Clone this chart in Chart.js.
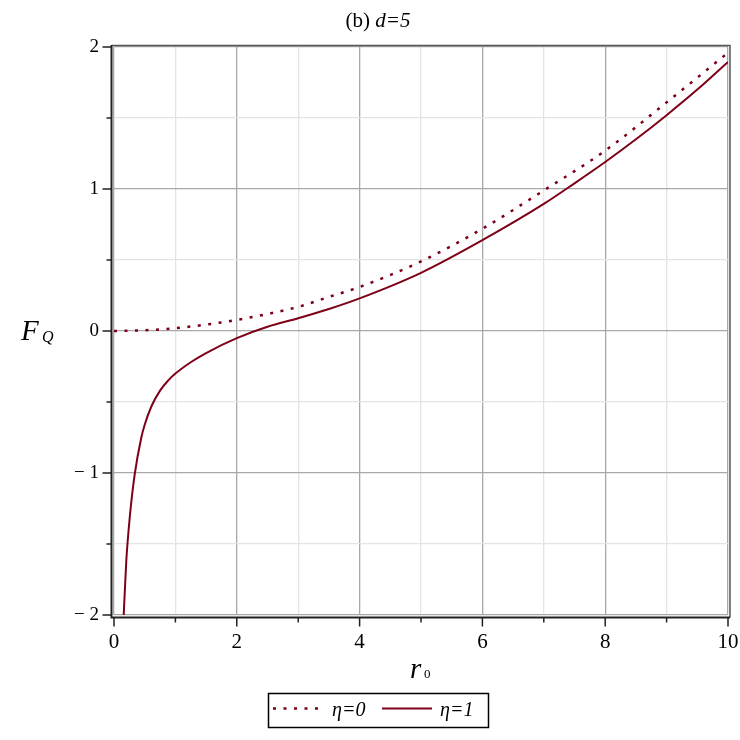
<!DOCTYPE html>
<html><head><meta charset="utf-8">
<script src="https://cdn.jsdelivr.net/npm/chart.js@4/dist/chart.umd.min.js"></script>
<style>html,body{margin:0;padding:0;background:#fff}#wrap{width:740px;height:740px}</style>
</head><body><div id="wrap"><canvas id="c" width="740" height="740"></canvas></div>
<script>
// ---- data ----
const rEta0 = [0, 0.5, 1, 1.5, 2, 2.5, 3, 3.5, 4, 5, 6, 7, 8, 9, 10];
const fEta0 = [0, 0.005, 0.02, 0.045, 0.078, 0.12, 0.17, 0.24, 0.31, 0.49, 0.72, 0.99, 1.27, 1.61, 1.96];
const rEta1 = [0.158, 0.2, 0.255, 0.337, 0.445, 0.5, 0.61, 0.75, 0.88, 1, 1.25, 1.5, 2, 2.5, 3, 3.5, 4, 5, 6, 7, 7.5, 8, 8.5, 9, 9.5, 10];
const fEta1 = [-2.0, -1.62, -1.32, -1.01, -0.75, -0.66, -0.53, -0.42, -0.35, -0.30, -0.22, -0.155, -0.05, 0.03, 0.09, 0.155, 0.23, 0.41, 0.64, 0.895, 1.04, 1.19, 1.35, 1.52, 1.70, 1.895];
const xTickLabels = [0, 2, 4, 6, 8, 10];
const yTickLabels = [-2, -1, 0, 1, 2];
const seriesNames = ['η=0', 'η=1'];
const titleParts = ['(b) ', 'd=5'];
const xLabel = ['r', '0'];
const yLabel = ['F', 'Q'];

const LINE = '#7d0018';
const SERIF = '"Liberation Serif", "DejaVu Serif", serif';

const toPts = (xs, ys) => xs.map((x, i) => ({x, y: ys[i]}));
const fmtY = v => v < 0 ? '\u2212 ' + Math.abs(v) : String(v);

const decor = {
  id: 'decor',
  afterDraw(chart) {
    const ctx = chart.ctx, a = chart.chartArea;
    const xs = chart.scales.x, ys = chart.scales.y;
    ctx.save();
    // frame top/right
    ctx.strokeStyle = '#555'; ctx.lineWidth = 1.5;
    ctx.beginPath();
    ctx.moveTo(a.left - 2.5, a.top - 1.5); ctx.lineTo(a.right + 2, a.top - 1.5);
    ctx.lineTo(a.right + 2, a.bottom + 2.5);
    ctx.stroke();
    // axes
    ctx.strokeStyle = '#222'; ctx.lineWidth = 2;
    const axX = a.left - 2.5, axY = a.bottom + 2.5;
    ctx.beginPath();
    ctx.moveTo(axX, a.top - 2); ctx.lineTo(axX, axY + 1);
    ctx.moveTo(axX - 1, axY); ctx.lineTo(a.right + 2, axY);
    ctx.stroke();
    // ticks
    ctx.lineWidth = 1.5;
    ctx.beginPath();
    for (let v = 0; v <= 10; v += 1) {
      const px = xs.getPixelForValue(v);
      const len = (v % 2 === 0) ? 9 : 5;
      ctx.moveTo(px, axY); ctx.lineTo(px, axY + len);
    }
    for (let v = -2; v <= 2; v += 0.5) {
      const py = ys.getPixelForValue(v);
      const len = Number.isInteger(v) ? 9 : 5;
      ctx.moveTo(axX, py); ctx.lineTo(axX - len, py);
    }
    ctx.stroke();

    ctx.fillStyle = '#000';
    ctx.textBaseline = 'alphabetic';
    ctx.textAlign = 'left';
    // title
    ctx.font = '21px ' + SERIF;
    const w1 = ctx.measureText(titleParts[0]).width;
    ctx.font = 'italic 21px ' + SERIF;
    const w2 = ctx.measureText(titleParts[1]).width;
    const tx = 378 - (w1 + w2) / 2;
    ctx.font = '21px ' + SERIF;
    ctx.fillText(titleParts[0], tx, 27);
    ctx.font = 'italic 21px ' + SERIF;
    ctx.fillText(titleParts[1], tx + w1, 27);

    // y label F_Q
    ctx.font = 'italic 29px ' + SERIF;
    ctx.fillText(yLabel[0], 21, 340);
    ctx.font = 'italic 16px ' + SERIF;
    ctx.fillText(yLabel[1], 42, 342);

    // x label r0
    ctx.font = 'italic 29px ' + SERIF;
    ctx.fillText(xLabel[0], 410, 678);
    ctx.font = '13px ' + SERIF;
    ctx.fillText(xLabel[1], 424, 678);

    // legend box
    ctx.strokeStyle = '#000'; ctx.lineWidth = 1.5;
    ctx.strokeRect(268.5, 693.5, 220, 34);
    ctx.strokeStyle = LINE; ctx.lineWidth = 2.5;
    ctx.setLineDash([3, 7.5]);
    ctx.beginPath(); ctx.moveTo(273, 708.5); ctx.lineTo(320, 708.5); ctx.stroke();
    ctx.setLineDash([]);
    ctx.lineWidth = 2;
    ctx.beginPath(); ctx.moveTo(382, 708.5); ctx.lineTo(432, 708.5); ctx.stroke();
    ctx.font = 'italic 20px ' + SERIF;
    ctx.fillStyle = '#000';
    ctx.fillText(seriesNames[0], 332, 716);
    ctx.fillText(seriesNames[1], 440, 716);
    ctx.restore();
  }
};

new Chart(document.getElementById('c'), {
  type: 'scatter',
  data: {
    datasets: [
      {label: seriesNames[0], data: toPts(rEta0, fEta0), showLine: true, borderColor: LINE,
       borderWidth: 2.5, borderDash: [3, 7.5], pointRadius: 0, cubicInterpolationMode: 'monotone', fill: false},
      {label: seriesNames[1], data: toPts(rEta1, fEta1), showLine: true, borderColor: LINE,
       borderWidth: 2, pointRadius: 0, cubicInterpolationMode: 'monotone', fill: false}
    ]
  },
  options: {
    responsive: false, animation: false, devicePixelRatio: 1,
    layout: {padding: {left: 0, top: 47, right: 12, bottom: 85}},
    plugins: {legend: {display: false}, title: {display: false}, tooltip: {enabled: false}},
    scales: {
      x: {
        type: 'linear', min: 0, max: 10,
        ticks: {stepSize: 1, autoSkip: false, maxRotation: 0, color: '#000',
          font: {family: SERIF, size: 21}, padding: 15,
          callback: v => xTickLabels.includes(v) ? String(v) : ''},
        grid: {color: c => (c.tick && c.tick.value % 2 === 0) ? '#a8a8a8' : '#e4e4e4', lineWidth: 1.3, drawTicks: false},
        border: {display: false},
        afterFit: s => { s.height = 40; s.paddingLeft = 0; s.paddingRight = 0; }
      },
      y: {
        type: 'linear', min: -2, max: 2,
        ticks: {stepSize: 0.5, autoSkip: false, color: '#000',
          font: {family: SERIF, size: 19}, padding: 15,
          callback: v => yTickLabels.includes(v) ? fmtY(v) : ''},
        grid: {color: c => (c.tick && Number.isInteger(c.tick.value)) ? '#a8a8a8' : '#e4e4e4', lineWidth: 1.3, drawTicks: false},
        border: {display: false},
        afterFit: s => { s.width = 114; s.paddingTop = 0; s.paddingBottom = 0; }
      }
    }
  },
  plugins: [decor]
});
</script>
</body></html>
